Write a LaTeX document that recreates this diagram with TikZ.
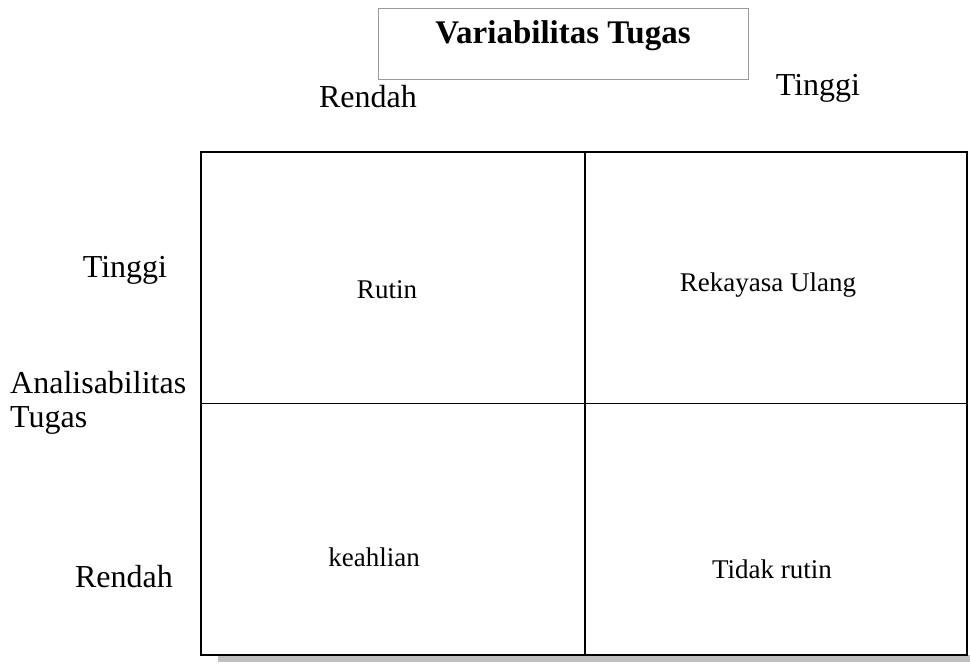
\documentclass[tikz,border=0pt]{standalone}
\usepackage{fontspec}
\setmainfont{Liberation Serif}
\begin{document}
\begin{tikzpicture}[x=1pt,y=-1pt,
  big/.style={font=\fontsize{32}{38}\selectfont, inner sep=0pt},
  small/.style={font=\fontsize{27}{32}\selectfont, inner sep=0pt},
  grid/.style={draw=black, line width=1.8pt},
  titlebox/.style={draw=black!40, line width=1pt, minimum width=370pt, minimum height=71pt, inner sep=0pt}]
  \useasboundingbox (0,0) rectangle (970,664);
  % drop shadow under the matrix
  \fill[black!25] (218,655) rectangle (970,662);
  % heading box
  \node[titlebox] (title) at (563,43.5) {};
  \node[font=\fontsize{33}{38}\selectfont\bfseries, inner sep=0pt] (titletext) at (563,36) {Variabilitas Tugas};
  % column levels
  \node[big] (colLow) at (368,97) {Rendah};
  \node[big] (colHigh) at (818,88) {Tinggi};
  % row levels and axis name
  \node[big] (rowHigh) at (125,270) {Tinggi};
  \node[big, anchor=base west] (axis1) at (10,393) {Analisabilitas};
  \node[big, anchor=base west] (axis2) at (10,427) {Tugas};
  \node[big] (rowLow) at (124,577) {Rendah};
  % the 2x2 matrix
  \node[grid, minimum width=766pt, minimum height=503pt, inner sep=0pt, fill=white] (box) at (584,403.5) {};
  \draw[grid] (box.north) ++(1,0) coordinate (vtop) -- (vtop |- box.south);
  \draw[grid] (box.west) -- (box.east);
  % quadrant labels
  \node[small] (q1) at (387,290) {Rutin};
  \node[small] (q2) at (768,285) {Rekayasa Ulang};
  \node[small] (q3) at (374,557) {keahlian};
  \node[small] (q4) at (772,569) {Tidak rutin};
\end{tikzpicture}
\end{document}
